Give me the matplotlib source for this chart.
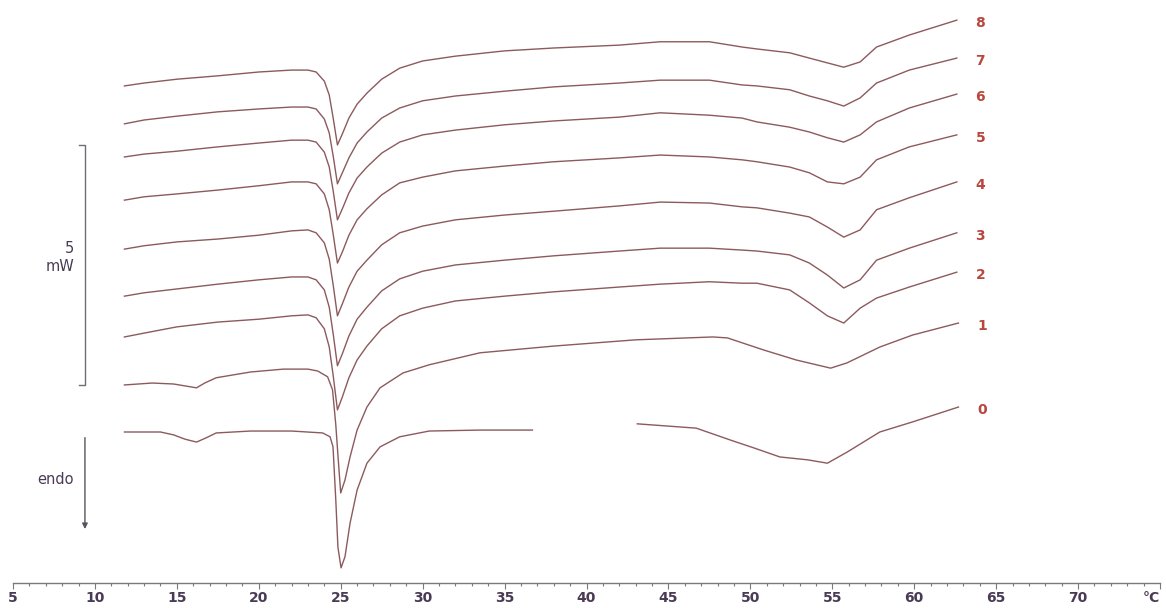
import matplotlib
matplotlib.use("Agg")
import matplotlib.pyplot as plt
import numpy as np

# temperature grid (°C) shared by runs 2-8
temp = [11.8, 13, 15, 17.5, 20, 22, 23, 23.5, 24.0, 24.3, 24.55, 24.8, 25.1, 25.5, 26.0, 26.6,
        27.5, 28.6, 30, 32, 35, 38, 42, 44.5, 47.5, 49.5, 50.4, 52.4, 53.6, 54.7, 55.7, 56.7,
        57.7, 59.7, 62.6]

# heat flow (mW, common arbitrary zero)
run8 = [10.71, 10.77, 10.85, 10.92, 11.00, 11.04, 11.04, 11.00, 10.81, 10.52, 10.02, 9.48,
        9.71, 10.04, 10.33, 10.56, 10.85, 11.08, 11.23, 11.33, 11.44, 11.50, 11.56,
        11.63, 11.63, 11.52, 11.48, 11.40, 11.29, 11.19, 11.10, 11.21, 11.52, 11.77, 12.08]
run7 = [9.92, 10.00, 10.08, 10.17, 10.23, 10.27, 10.27, 10.23, 10.02, 9.73, 9.23, 8.67,
        8.90, 9.21, 9.52, 9.75, 10.04, 10.25, 10.40, 10.50, 10.60, 10.69, 10.77,
        10.83, 10.83, 10.73, 10.71, 10.63, 10.50, 10.40, 10.29, 10.46, 10.77, 11.04, 11.29]
run6 = [9.23, 9.29, 9.35, 9.44, 9.52, 9.58, 9.58, 9.54, 9.33, 9.02, 8.50, 7.92,
        8.15, 8.48, 8.79, 9.02, 9.31, 9.54, 9.69, 9.79, 9.90, 9.98, 10.06,
        10.15, 10.10, 10.04, 9.96, 9.85, 9.75, 9.63, 9.54, 9.69, 9.96, 10.25, 10.54]
run5 = [8.33, 8.40, 8.46, 8.54, 8.63, 8.71, 8.71, 8.67, 8.46, 8.13, 7.60, 7.02,
        7.25, 7.60, 7.92, 8.15, 8.44, 8.69, 8.81, 8.94, 9.04, 9.13, 9.21,
        9.27, 9.23, 9.17, 9.13, 9.02, 8.90, 8.71, 8.67, 8.81, 9.17, 9.44, 9.69]
run4 = [7.31, 7.38, 7.46, 7.52, 7.60, 7.69, 7.71, 7.65, 7.44, 7.10, 6.54, 5.92,
        6.17, 6.52, 6.85, 7.08, 7.40, 7.65, 7.79, 7.92, 8.02, 8.10, 8.21,
        8.29, 8.27, 8.19, 8.17, 8.06, 7.98, 7.77, 7.56, 7.71, 8.13, 8.38, 8.71]
run3 = [6.33, 6.40, 6.48, 6.58, 6.67, 6.73, 6.73, 6.67, 6.46, 6.10, 5.52, 4.88,
        5.13, 5.50, 5.85, 6.10, 6.44, 6.69, 6.85, 6.98, 7.08, 7.17, 7.27,
        7.33, 7.33, 7.29, 7.27, 7.19, 7.02, 6.77, 6.50, 6.67, 7.08, 7.33, 7.65]
run2 = [5.48, 5.56, 5.69, 5.79, 5.85, 5.92, 5.94, 5.88, 5.65, 5.27, 4.65, 3.96,
        4.23, 4.63, 5.00, 5.29, 5.65, 5.92, 6.08, 6.23, 6.33, 6.42, 6.52,
        6.58, 6.63, 6.60, 6.60, 6.46, 6.19, 5.92, 5.77, 6.08, 6.29, 6.52, 6.83]

temp1 = [11.8, 13.5, 14.8, 15.5, 16.2, 16.7, 17.4, 19.5, 21.5, 23.0, 23.6, 24.2, 24.5, 24.7,
         24.85, 25.0, 25.26, 25.57, 26.0, 26.6, 27.4, 28.8, 30.4, 33.5, 38, 43, 47.7, 48.6,
         50.8, 52.8, 54.9, 55.9, 57.9, 59.9, 62.7]
run1 = [4.48, 4.52, 4.50, 4.46, 4.42, 4.52, 4.63, 4.75, 4.81, 4.81, 4.77, 4.65, 4.38, 3.65,
        2.92, 2.23, 2.50, 2.98, 3.54, 4.02, 4.42, 4.73, 4.90, 5.15, 5.29, 5.42, 5.48, 5.46,
        5.21, 5.00, 4.83, 4.94, 5.27, 5.52, 5.77]

# run 0 has a break in the record (nan)
temp0 = [11.8, 14.0, 14.8, 15.5, 16.2, 16.8, 17.4, 19.5, 22.0, 23.9, 24.35, 24.53, 24.7, 24.83,
         25.02, 25.26, 25.57, 26.0, 26.6, 27.4, 28.6, 30.4, 33.5, 36.7, 40.0, 43.1, 46.7, 48.8,
         50.2, 51.8, 53.5, 54.7, 55.9, 57.9, 59.9, 62.7]
run0 = [3.50, 3.50, 3.44, 3.35, 3.29, 3.38, 3.48, 3.52, 3.52, 3.48, 3.40, 3.19, 2.08, 1.10,
        0.67, 0.90, 1.60, 2.29, 2.85, 3.19, 3.40, 3.52, 3.54, 3.54, np.nan, 3.67, 3.58, 3.33,
        3.17, 2.98, 2.92, 2.85, 3.08, 3.50, 3.71, 4.02]

run_labels = ["0", "1", "2", "3", "4", "5", "6", "7", "8"]
scale_mw = 5
scale_low = 4.48

curve_color = "#8c5a5c"
label_color = "#b8473f"
text_color = "#4a3b55"
axis_color = "#7a7a7a"

plt.rcParams["font.family"] = ["DejaVu Sans"]

fig = plt.figure(figsize=(11.66, 6.08), dpi=100)
ax = fig.add_axes([13 / 1166, 25 / 608, 1147 / 1166, 583 / 608])

runs = [(temp0, run0), (temp1, run1), (temp, run2), (temp, run3), (temp, run4),
        (temp, run5), (temp, run6), (temp, run7), (temp, run8)]
for lab, (tt, yy) in zip(run_labels, runs):
    ax.plot(tt, yy, color=curve_color, linewidth=1.0, solid_joinstyle="round")
    ax.annotate(lab, xy=(tt[-1], yy[-1]), xytext=(17, -2), textcoords="offset points",
                ha="center", va="center", fontsize=10, fontweight="bold", color=label_color)

ax.set_xlim(5, 75)
ax.set_ylim(0.354, 12.5)

# scale bar
xb = 9.39
ax.plot([xb - 0.35, xb, xb, xb - 0.35], [scale_low, scale_low, scale_low + scale_mw, scale_low + scale_mw],
        color="#6e6e7a", linewidth=1.0, clip_on=False)
ax.text(8.72, 7.33, "5", ha="right", va="center", fontsize=10.5, color=text_color)
ax.text(8.72, 6.94, "mW", ha="right", va="center", fontsize=10.5, color=text_color)

# endo arrow
ax.annotate("", xy=(xb, 1.42), xytext=(xb, 3.44),
            arrowprops=dict(arrowstyle="-|>", color="#555560", lw=1.0, mutation_scale=8))
ax.text(8.72, 2.5, "endo", ha="right", va="center", fontsize=10.5, color=text_color)

for s in ["top", "right", "left"]:
    ax.spines[s].set_visible(False)
ax.spines["bottom"].set_color(axis_color)
ax.spines["bottom"].set_linewidth(1.0)
ax.set_yticks([])

major = list(range(5, 76, 5))
ax.set_xticks(major)
ax.set_xticklabels([str(t) for t in major[:-1]] + ["°C"], fontsize=10, fontweight="bold",
                   color=text_color)
ax.get_xticklabels()[-1].set_horizontalalignment("right")
ax.set_xticks(np.arange(5, 76, 1), minor=True)
ax.tick_params(axis="x", which="major", direction="out", length=4, width=0.8, color=axis_color, pad=2)
ax.tick_params(axis="x", which="minor", direction="out", length=2.5, width=0.8, color=axis_color)

fig.savefig("out.png", dpi=100, facecolor="white")
